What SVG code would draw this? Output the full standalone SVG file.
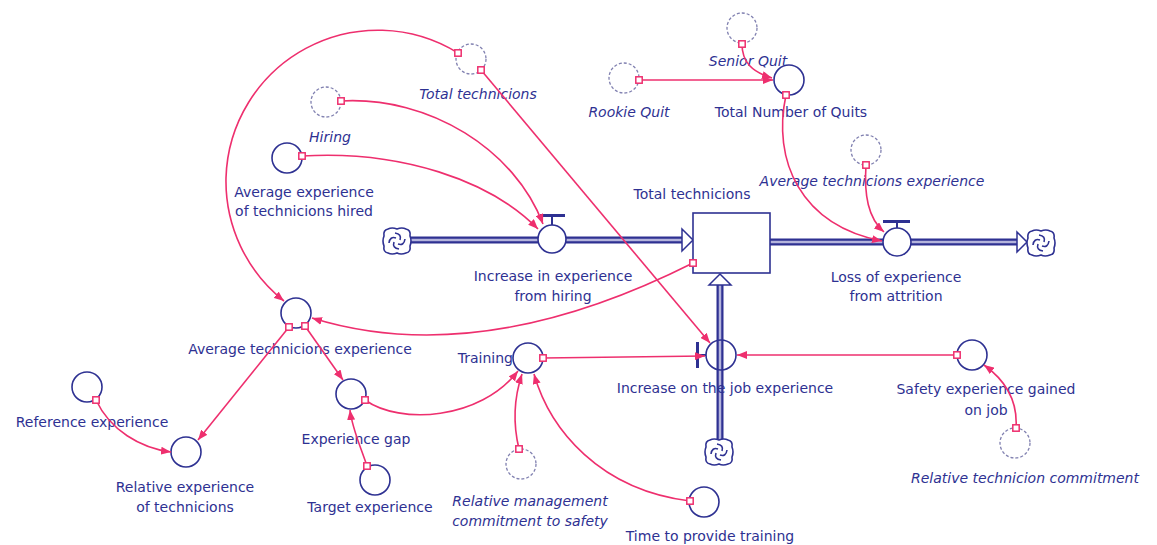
<svg xmlns="http://www.w3.org/2000/svg" xmlns:xlink="http://www.w3.org/1999/xlink" width="1157" height="545" viewBox="0 0 1157 545">
  <style>
    .lbl { font-family: "DejaVu Sans", "Liberation Sans", sans-serif; font-size: 14px; fill: #2e3192; text-anchor: middle; }
    .it { font-style: italic; }
    .aux { fill: #ffffff; stroke: #2e3192; stroke-width: 1.6; }
    .ghost { fill: #ffffff; stroke: #8080b0; stroke-width: 1.3; stroke-dasharray: 3 2; }
    .link { fill: none; stroke: #ee2f6e; stroke-width: 1.6; marker-end: url(#arrow); }
    .pipe-o { fill: none; stroke: #2e3192; stroke-width: 7; }
    .pipe-i { fill: none; stroke: #b4b4dc; stroke-width: 2.5; }
    .stock { fill: #ffffff; stroke: #2e3192; stroke-width: 1.6; }
    .head { fill: #ffffff; stroke: #2e3192; stroke-width: 1.5; }
    .bar { fill: none; stroke: #2e3192; stroke-width: 3; }
  </style>
  <defs>
    <marker id="arrow" markerUnits="userSpaceOnUse" markerWidth="11" markerHeight="8" refX="10" refY="4" orient="auto">
      <path d="M0,0 L10,4 L0,8 z" fill="#ee2f6e"/>
    </marker>
    <rect id="port" x="-3.2" y="-3.2" width="6.4" height="6.4" fill="#ffffff" stroke="#ee2f6e" stroke-width="1.5"/>
    <g id="cloud" fill="none" stroke="#2e3192" stroke-width="1.6">
      <path d="M-9,-12 Q-5,-14 0,-12 Q5,-14 9,-12 Q14,-11 13,-5 Q15,0 13,5 Q14,11 9,12 Q4,14 0,12 Q-5,14 -9,12 Q-14,11 -13,5 Q-15,0 -13,-5 Q-14,-11 -9,-12 z" fill="#ffffff"/>
      <path d="M-2,-8 Q5,-7 3,-1 M8,-2 Q7,5 1,3 M2,8 Q-5,7 -3,1 M-8,2 Q-7,-5 -1,-3"/>
    </g>
  </defs>

  <!-- material flows (pipes) -->
  <g id="flows">
    <line class="pipe-o" x1="411" y1="240" x2="683" y2="240"/>
    <line class="pipe-i" x1="411" y1="240" x2="683" y2="240"/>
    <line class="pipe-o" x1="770" y1="242" x2="1018" y2="242"/>
    <line class="pipe-i" x1="770" y1="242" x2="1018" y2="242"/>
    <line class="pipe-o" x1="720" y1="284" x2="720" y2="439"/>
    <line class="pipe-i" x1="720" y1="284" x2="720" y2="439"/>
    <polygon class="head" points="682,229 693,240 682,251"/>
    <polygon class="head" points="1017,232 1027,242 1017,252"/>
    <polygon class="head" points="709,285 720,274 731,285"/>
  </g>

  <!-- sources and sinks -->
  <g id="cloud-hiring"><use xlink:href="#cloud" x="397" y="241"/></g>
  <g id="cloud-attrition"><use xlink:href="#cloud" x="1041" y="243"/></g>
  <g id="cloud-job"><use xlink:href="#cloud" x="719" y="452"/></g>

  <!-- stock -->
  <g id="stock-total-technicions">
    <rect class="stock" x="693" y="213" width="77" height="60"/>
    <text class="lbl" x="692" y="199">Total technicions</text>
  </g>

  <!-- rate valves -->
  <g id="flow-increase-hiring">
    <circle class="aux" cx="552" cy="239" r="14"/>
    <line class="bar" x1="540" y1="215.5" x2="565" y2="215.5"/>
    <line stroke="#2e3192" stroke-width="2" x1="552" y1="217" x2="552" y2="225"/>
    <text class="lbl" x="553" y="281">Increase in experience</text>
    <text class="lbl" x="553" y="301">from hiring</text>
  </g>
  <g id="flow-loss-attrition">
    <circle class="aux" cx="897" cy="242" r="14"/>
    <line class="bar" x1="883" y1="221.5" x2="910" y2="221.5"/>
    <line stroke="#2e3192" stroke-width="2" x1="897" y1="223" x2="897" y2="228"/>
    <text class="lbl" x="896" y="282">Loss of experience</text>
    <text class="lbl" x="896" y="301">from attrition</text>
  </g>
  <g id="flow-on-job">
    <circle class="aux" cx="721" cy="355" r="15" style="fill:none"/>
    <line class="bar" x1="697.5" y1="342" x2="697.5" y2="368"/>
    <line stroke="#2e3192" stroke-width="2" x1="699" y1="355" x2="706" y2="355"/>
    <text class="lbl" x="725" y="393">Increase on the job experience</text>
  </g>

  <!-- auxiliaries -->
  <g id="ghost-total-technicions">
    <circle class="ghost" cx="471" cy="59" r="15"/>
    <text class="lbl it" x="478" y="99">Total technicions</text>
  </g>
  <g id="ghost-hiring">
    <circle class="ghost" cx="326" cy="102" r="15"/>
    <text class="lbl it" x="330" y="142">Hiring</text>
  </g>
  <g id="avg-experience-hired">
    <circle class="aux" cx="287" cy="158" r="15"/>
    <text class="lbl" x="304" y="197">Average experience</text>
    <text class="lbl" x="304" y="216">of technicions hired</text>
  </g>
  <g id="ghost-rookie-quit">
    <circle class="ghost" cx="624" cy="78" r="15"/>
    <text class="lbl it" x="629" y="117">Rookie Quit</text>
  </g>
  <g id="ghost-senior-quit">
    <circle class="ghost" cx="742" cy="28" r="15"/>
  </g>
  <g id="total-number-of-quits">
    <circle class="aux" cx="789" cy="80" r="15"/>
    <text class="lbl" x="791" y="117">Total Number of Quits</text>
  </g>
  <g id="senior-quit-label">
    <text class="lbl it" x="748" y="66">Senior Quit</text>
  </g>
  <g id="ghost-avg-technicions-experience">
    <circle class="ghost" cx="866" cy="150" r="15"/>
    <text class="lbl it" x="872" y="186">Average technicions experience</text>
  </g>
  <g id="avg-technicions-experience">
    <circle class="aux" cx="296" cy="313" r="15"/>
    <text class="lbl" x="300" y="354">Average technicions experience</text>
  </g>
  <g id="reference-experience">
    <circle class="aux" cx="87" cy="387" r="15"/>
    <text class="lbl" x="92" y="427">Reference experience</text>
  </g>
  <g id="relative-experience">
    <circle class="aux" cx="186" cy="452" r="15"/>
    <text class="lbl" x="185" y="492">Relative experience</text>
    <text class="lbl" x="185" y="512">of technicions</text>
  </g>
  <g id="experience-gap">
    <circle class="aux" cx="351" cy="394" r="15"/>
    <text class="lbl" x="356" y="444">Experience gap</text>
  </g>
  <g id="target-experience">
    <circle class="aux" cx="375" cy="480" r="15"/>
    <text class="lbl" x="370" y="512">Target experience</text>
  </g>
  <g id="training">
    <circle class="aux" cx="528" cy="358" r="15"/>
    <text class="lbl" x="513" y="363" style="text-anchor:end">Training</text>
  </g>
  <g id="ghost-relative-management">
    <circle class="ghost" cx="521" cy="464" r="15"/>
    <text class="lbl it" x="530" y="506">Relative management</text>
    <text class="lbl it" x="530" y="526">commitment to safety</text>
  </g>
  <g id="time-to-provide-training">
    <circle class="aux" cx="704" cy="502" r="15"/>
    <text class="lbl" x="710" y="541">Time to provide training</text>
  </g>
  <g id="safety-experience-gained">
    <circle class="aux" cx="972" cy="355" r="15"/>
    <text class="lbl" x="986" y="394">Safety experience gained</text>
    <text class="lbl" x="986" y="415">on job</text>
  </g>
  <g id="ghost-relative-technicion-commitment">
    <circle class="ghost" cx="1015" cy="443" r="15"/>
    <text class="lbl it" x="1025" y="483">Relative technicion commitment</text>
  </g>

  <!-- information links -->
  <g id="connectors">
    <path class="link" d="M458,53 A152,152 0 0 0 226,178 A153,153 0 0 0 284,301"/>
    <path class="link" d="M481,70 L710,343"/>
    <path class="link" d="M341,101 C430,96 515,150 543,224"/>
    <path class="link" d="M302,156 C400,150 490,180 538,229"/>
    <path class="link" d="M639,80 L773,80"/>
    <path class="link" d="M742,44 C742,62 752,72 772,78"/>
    <path class="link" d="M786,95 C772,160 800,225 882,241"/>
    <path class="link" d="M866,165 C864,195 868,218 884,232"/>
    <path class="link" d="M693,263 Q480,370 312,318"/>
    <path class="link" d="M289,327 L198,440"/>
    <path class="link" d="M305,326 L343,380"/>
    <path class="link" d="M96,400 C110,430 140,448 171,452"/>
    <path class="link" d="M367,466 C360,445 352,428 350,410"/>
    <path class="link" d="M365,400 C400,425 480,420 518,371"/>
    <path class="link" d="M519,449 C512,420 515,395 522,374"/>
    <path class="link" d="M690,501 C600,490 550,430 534,374"/>
    <path class="link" d="M543,358 L705,356"/>
    <path class="link" d="M957,355 L737,355"/>
    <path class="link" d="M1016,428 C1018,400 1005,380 984,365"/>
    <!-- link origins -->
    <use xlink:href="#port" x="458" y="53"/>
    <use xlink:href="#port" x="481" y="70"/>
    <use xlink:href="#port" x="341" y="101"/>
    <use xlink:href="#port" x="302" y="156"/>
    <use xlink:href="#port" x="639" y="80"/>
    <use xlink:href="#port" x="742" y="44"/>
    <use xlink:href="#port" x="786" y="95"/>
    <use xlink:href="#port" x="866" y="165"/>
    <use xlink:href="#port" x="693" y="263"/>
    <use xlink:href="#port" x="289" y="327"/>
    <use xlink:href="#port" x="305" y="326"/>
    <use xlink:href="#port" x="96" y="400"/>
    <use xlink:href="#port" x="367" y="466"/>
    <use xlink:href="#port" x="365" y="400"/>
    <use xlink:href="#port" x="519" y="449"/>
    <use xlink:href="#port" x="690" y="501"/>
    <use xlink:href="#port" x="543" y="358"/>
    <use xlink:href="#port" x="957" y="355"/>
    <use xlink:href="#port" x="1016" y="428"/>
  </g>
</svg>
